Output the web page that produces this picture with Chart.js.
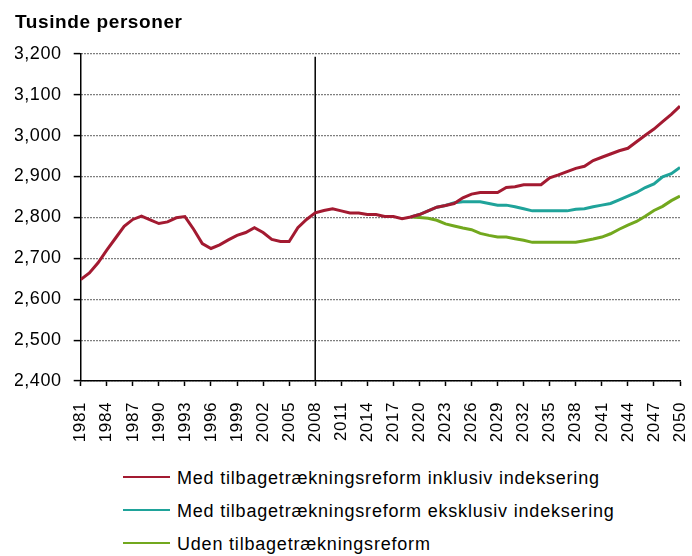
<!DOCTYPE html>
<html>
<head>
<meta charset="utf-8">
<script src="https://cdn.jsdelivr.net/npm/chart.js@4.4.1/dist/chart.umd.min.js"></script>
<style>
    body { margin: 0; background: #fff; font-family: "Liberation Sans", Arial, sans-serif; }
    #wrap { position: relative; width: 692px; height: 556px; }
    #chartBox { position: absolute; left: 0; top: 0; width: 692px; height: 460px; }
    #legend { position: absolute; left: 123px; top: 462px; }
    .leg-row { display: flex; align-items: center; height: 33px; font-size: 18px; letter-spacing: 0.8px; color: #000; }
    .leg-line { width: 47px; height: 2px; margin-right: 7px; margin-top: -3px; }
</style>
</head>
<body>
<div id="wrap">
    <div id="chartBox"><canvas id="chart"></canvas></div>
    <div id="legend"></div>
</div>
<script>
// Years and values (thousand persons)
const histYears = [];
for (let y = 1981; y <= 2050; y++) histYears.push(y);
const projYears = [];
for (let y = 2019; y <= 2050; y++) projYears.push(y);

const inklValues = [
    2648, 2664, 2689, 2720, 2749, 2778, 2795, 2803, 2794, 2785,
    2789, 2799, 2802, 2771, 2736, 2724, 2733, 2745, 2756, 2763,
    2775, 2763, 2746, 2741, 2741, 2775, 2795, 2811, 2817, 2821,
    2816, 2811, 2811, 2807, 2807, 2802, 2802, 2797, 2801, 2807,
    2816, 2825, 2829, 2834, 2848, 2857, 2861, 2861, 2861, 2873,
    2875, 2880, 2880, 2880, 2897, 2904, 2912, 2920, 2925, 2939,
    2947, 2955, 2963, 2969, 2985, 3001, 3016, 3034, 3052, 3072
];
const eksklValues = [
    2801, 2807, 2816, 2825, 2829, 2836, 2838, 2838, 2838, 2834,
    2830, 2830, 2826, 2821, 2816, 2816, 2816, 2816, 2816, 2820,
    2821, 2826, 2830, 2834, 2843, 2852, 2861, 2873, 2882, 2899,
    2907, 2922
];
const udenValues = [
    2801, 2800, 2798, 2793, 2784, 2779, 2774, 2770, 2761, 2756,
    2752, 2752, 2748, 2744, 2739, 2739, 2739, 2739, 2739, 2739,
    2743, 2747, 2752, 2760, 2771, 2781, 2790, 2803, 2817, 2827,
    2841, 2852
];

const seriesLabels = [
    'Med tilbagetrækningsreform inklusiv indeksering',
    'Med tilbagetrækningsreform eksklusiv indeksering',
    'Uden tilbagetrækningsreform'
];
const seriesColors = ['#A31A31', '#1FA39A', '#72A81E'];
const markerYear = 2008;

function toPoints(years, values) {
    return values.map((v, i) => ({ x: years[i], y: v }));
}

// small plugin: letter spacing for canvas text
const spacingPlugin = {
    id: 'spacing',
    beforeLayout(chart) { chart.ctx.letterSpacing = '0.6px'; },
    beforeDraw(chart) { chart.ctx.letterSpacing = '0.6px'; }
};

// vertical line at 2008
const markerPlugin = {
    id: 'marker',
    beforeDatasetsDraw(chart) {
        const { ctx, chartArea, scales } = chart;
        const x = scales.x.getPixelForValue(markerYear);
        ctx.save();
        ctx.strokeStyle = '#000';
        ctx.lineWidth = 1.5;
        ctx.beginPath();
        ctx.moveTo(x, chartArea.top + 3);
        ctx.lineTo(x, chartArea.bottom);
        ctx.stroke();
        ctx.restore();
    }
};

const datasets = [
    { label: seriesLabels[0], data: toPoints(histYears, inklValues), borderColor: seriesColors[0] },
    { label: seriesLabels[1], data: toPoints(projYears, eksklValues), borderColor: seriesColors[1] },
    { label: seriesLabels[2], data: toPoints(projYears, udenValues), borderColor: seriesColors[2] }
].map(d => Object.assign(d, { borderWidth: 3, pointRadius: 0, tension: 0, fill: false }));

new Chart(document.getElementById('chart'), {
    type: 'line',
    data: { datasets: datasets },
    plugins: [spacingPlugin, markerPlugin],
    options: {
        responsive: true,
        maintainAspectRatio: false,
        animation: false,
        layout: { padding: { left: 15, right: 12, top: 0, bottom: 15 } },
        plugins: {
            legend: { display: false },
            tooltip: { enabled: false },
            title: {
                display: true,
                text: 'Tusinde personer',
                align: 'start',
                color: '#000',
                font: { family: '"Liberation Sans", Arial, sans-serif', size: 19, weight: 'bold' },
                padding: { top: 11, bottom: 20 }
            }
        },
        scales: {
            x: {
                type: 'linear',
                min: 1981,
                max: 2050,
                afterBuildTicks: axis => {
                    axis.ticks = histYears.filter(y => (y - 1981) % 3 === 0).map(y => ({ value: y }));
                },
                afterFit: axis => {
                    axis.height = 64;
                    axis.paddingLeft = 0;
                    axis.paddingRight = 0;
                },
                grid: { drawOnChartArea: false, drawTicks: true, tickLength: 5, tickColor: '#000', tickWidth: 1.5 },
                border: { display: true, color: '#000', width: 1.5 },
                ticks: {
                    autoSkip: false,
                    minRotation: 90,
                    maxRotation: 90,
                    padding: 16,
                    color: '#000',
                    font: { family: '"Liberation Sans", Arial, sans-serif', size: 17 },
                    callback: v => String(v)
                }
            },
            y: {
                min: 2400,
                max: 3200,
                afterFit: axis => { axis.width = 65.7; },
                grid: { color: '#000', lineWidth: 1.2, drawTicks: true, tickLength: 7, tickColor: '#000', tickWidth: 1.5, tickBorderDash: [] },
                border: { display: true, color: '#000', width: 1.5, dash: [1, 2] },
                ticks: {
                    stepSize: 100,
                    padding: 12,
                    color: '#000',
                    font: { family: '"Liberation Sans", Arial, sans-serif', size: 18 },
                    callback: v => v.toLocaleString('en-US')
                }
            }
        }
    }
});

// legend below the chart
const legendEl = document.getElementById('legend');
seriesLabels.forEach((label, i) => {
    const row = document.createElement('div');
    row.className = 'leg-row';
    row.innerHTML = `<span class="leg-line" style="background:${seriesColors[i]}"></span><span>${label}</span>`;
    legendEl.appendChild(row);
});
</script>
</body>
</html>
